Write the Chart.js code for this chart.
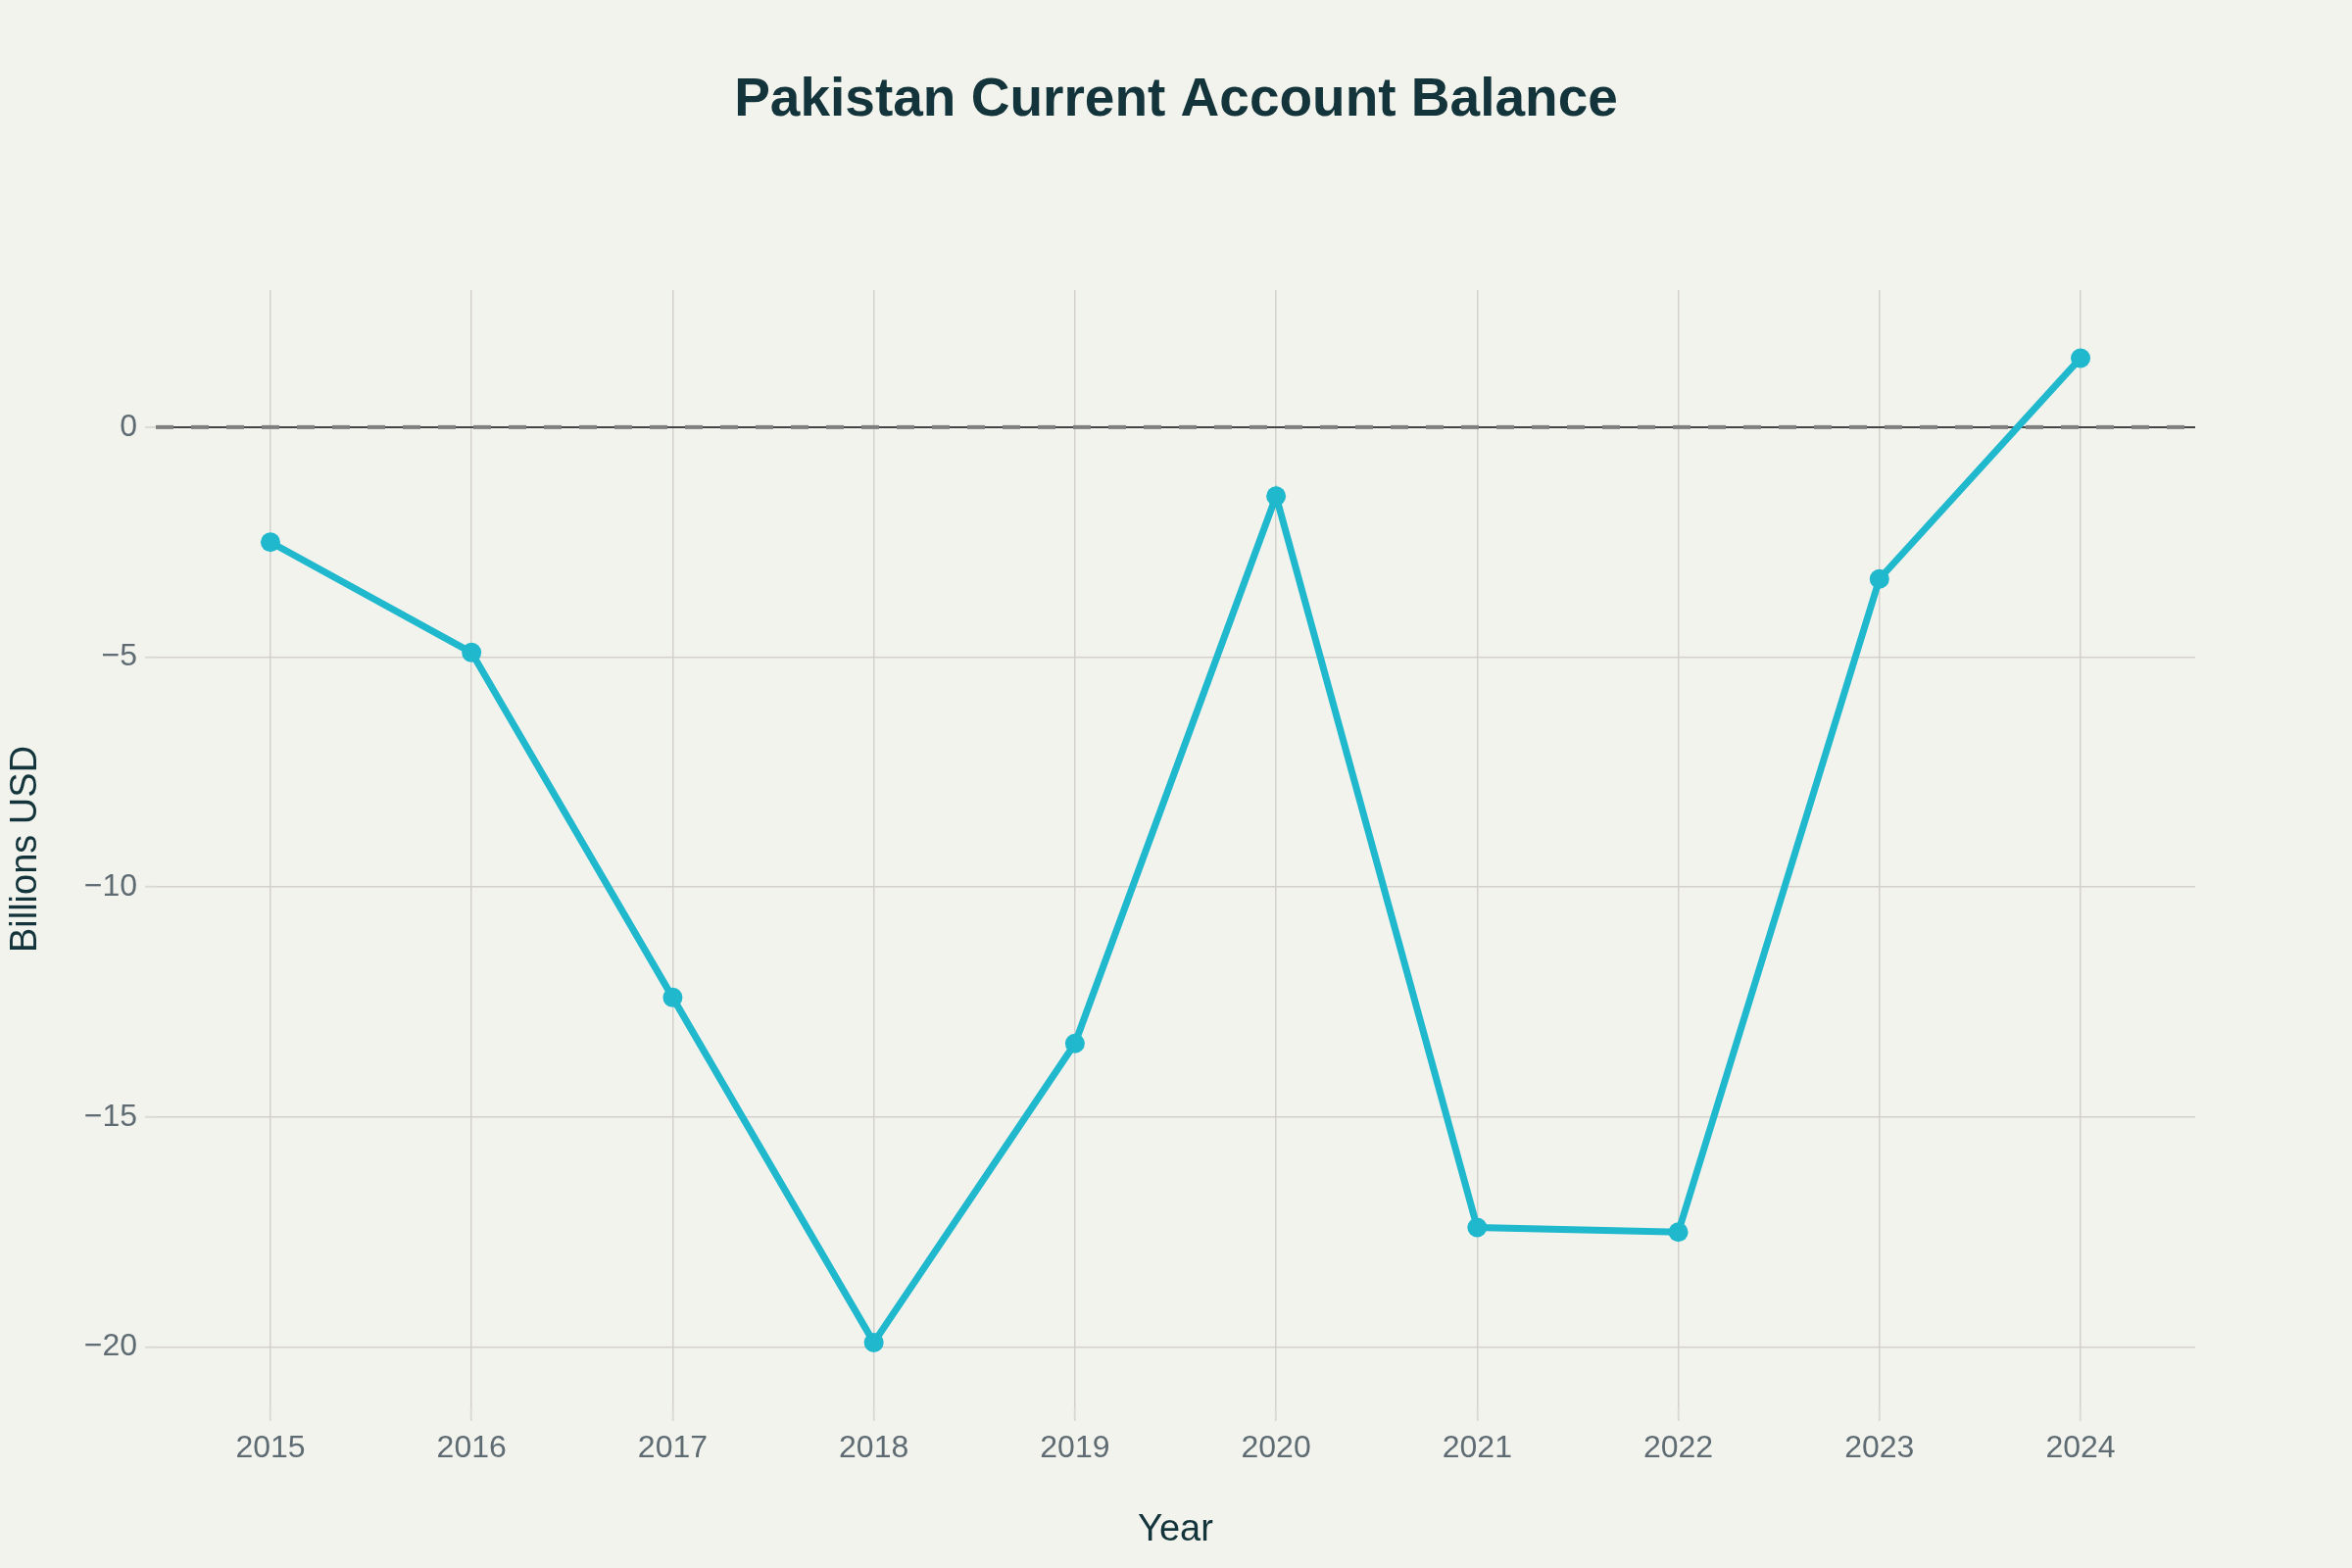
<!DOCTYPE html>
<html>
<head>
<meta charset="utf-8">
<title>Pakistan Current Account Balance</title>
<script src="https://cdn.jsdelivr.net/npm/chart.js@4.4.1/dist/chart.umd.min.js"></script>
<style>
  html, body { margin: 0; padding: 0; background: #f3f3ee; }
  #wrap { width: 2400px; height: 1600px; }
</style>
</head>
<body>
<div id="wrap"><canvas id="balanceChart" width="2400" height="1600"></canvas></div>
<script>
// --- data ---
const years = [2015, 2016, 2017, 2018, 2019, 2020, 2021, 2022, 2023, 2024];
const balance = [-2.5, -4.9, -12.4, -19.9, -13.4, -1.5, -17.4, -17.5, -3.3, 1.5]; // billions USD
const yTicks = [-20, -15, -10, -5, 0];
const xRange = [2014.43, 2024.57];
const yRange = [-21.33, 2.98];

const lineColor = '#1fb8cd';
const gridColor = '#d4d1cc';
const tickTextColor = '#5f6b73';
const titleColor = '#13343b';

const ctx = document.getElementById('balanceChart').getContext('2d');

new Chart(ctx, {
    type: 'line',
    data: {
        datasets: [
            {
                label: 'Current account balance',
                data: years.map((y, i) => ({ x: y, y: balance[i] })),
                borderColor: lineColor,
                backgroundColor: lineColor,
                borderWidth: 7,
                pointRadius: 10,
                pointBorderWidth: 0,
                pointBackgroundColor: lineColor,
                tension: 0,
                order: 0
            },
            {
                // dashed reference at zero
                label: 'zero',
                data: [{ x: xRange[0], y: 0 }, { x: xRange[1], y: 0 }],
                borderColor: '#7f7f7f',
                borderWidth: 4,
                borderDash: [18, 18],
                pointRadius: 0,
                order: 1
            }
        ]
    },
    options: {
        responsive: false,
        devicePixelRatio: 1,
        animation: false,
        layout: { padding: 0 },
        plugins: {
            legend: { display: false },
            tooltip: { enabled: false },
            title: {
                display: true,
                text: 'Pakistan Current Account Balance',
                color: titleColor,
                font: { family: 'Liberation Sans', size: 55, weight: 'bold' },
                padding: { top: 70, bottom: 160 }
            }
        },
        scales: {
            x: {
                type: 'linear',
                min: xRange[0],
                max: xRange[1],
                afterBuildTicks: scale => { scale.ticks = years.map(v => ({ value: v })); },
                afterFit: scale => { scale.height = 163; },
                border: { display: false },
                grid: {
                    color: gridColor,
                    lineWidth: 1.5,
                    tickLength: 13,
                    tickColor: '#dcdad5',
                    tickWidth: 2
                },
                ticks: {
                    color: tickTextColor,
                    font: { family: 'Liberation Sans', size: 32 },
                    padding: 9,
                    maxRotation: 0,
                    callback: v => String(v)
                },
                title: {
                    display: true,
                    text: 'Year',
                    color: titleColor,
                    font: { family: 'Liberation Sans', size: 38 },
                    padding: { top: 0, bottom: 16 }
                }
            },
            y: {
                type: 'linear',
                min: yRange[0],
                max: yRange[1],
                afterBuildTicks: scale => { scale.ticks = yTicks.map(v => ({ value: v })); },
                afterFit: scale => { scale.width = 159; },
                border: { display: false },
                grid: {
                    color: c => c.tick && c.tick.value === 0 ? '#444444' : gridColor,
                    lineWidth: c => c.tick && c.tick.value === 0 ? 2 : 1.5,
                    tickLength: 11,
                    tickColor: '#dcdad5',
                    tickWidth: 2
                },
                ticks: {
                    color: tickTextColor,
                    font: { family: 'Liberation Sans', size: 32 },
                    padding: 8,
                    callback: v => v < 0 ? '\u2212' + Math.abs(v) : String(v)
                },
                title: {
                    display: true,
                    text: 'Billions USD',
                    color: titleColor,
                    font: { family: 'Liberation Sans', size: 38 },
                    padding: { top: 4, bottom: 0 }
                }
            },
            // empty right margin so the title stays centred on the page
            yMargin: {
                type: 'linear',
                position: 'right',
                min: yRange[0],
                max: yRange[1],
                afterFit: scale => { scale.width = 160; },
                border: { display: false },
                grid: { display: false },
                ticks: { display: false }
            }
        }
    }
});
</script>
</body>
</html>
